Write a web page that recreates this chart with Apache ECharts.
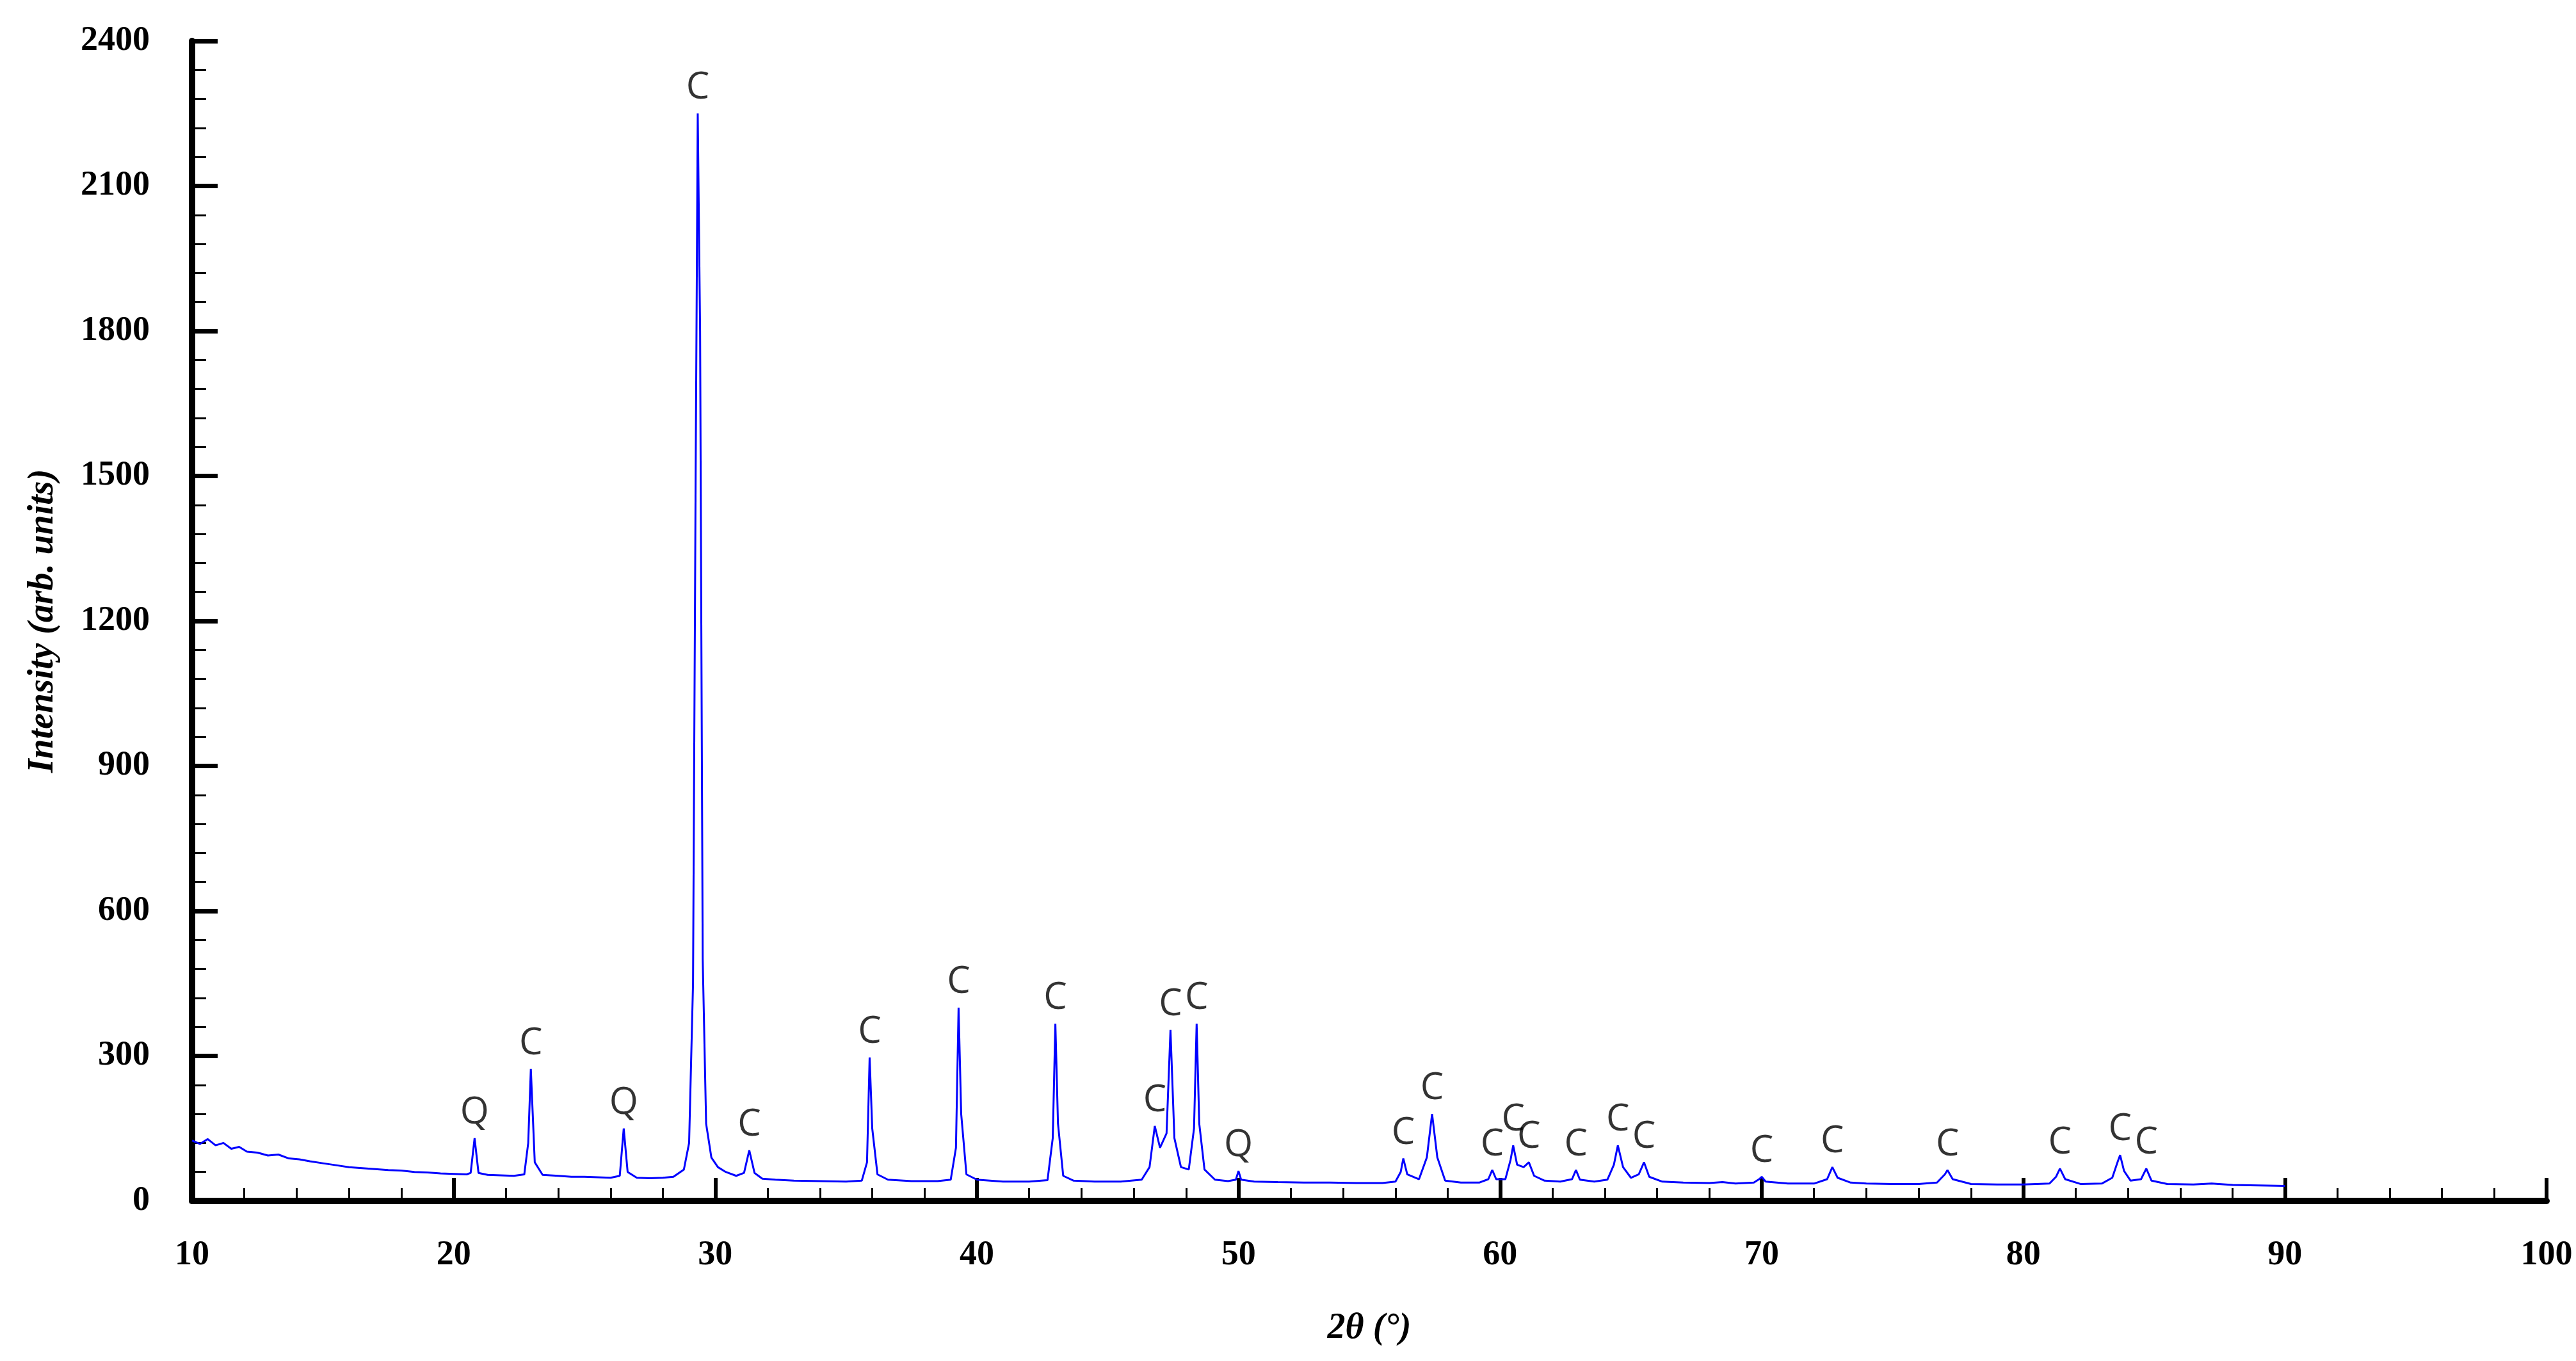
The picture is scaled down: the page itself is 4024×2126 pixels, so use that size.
<!DOCTYPE html>
<html><head><meta charset="utf-8">
<script src="https://cdn.jsdelivr.net/npm/echarts@6/dist/echarts.min.js"></script>
<style>html,body{margin:0;padding:0;background:#fff}#c{width:4024px;height:2126px}</style>
</head><body><div id="c"></div>
<script>
// [2θ, intensity] pairs
const pattern = [
[10,125],[10.3,118],[10.6,128],[10.9,115],[11.2,120],[11.5,108],[11.8,112],[12.1,102],[12.5,100],[12.9,94],[13.3,96],[13.7,88],[14.1,86],[14.5,82],[15,78],[15.5,74],[16,70],[16.5,68],[17,66],[17.5,64],[18,63],[18.5,60],[19,59],[19.5,57],[20,56],[20.5,55],
[20.65,58],[20.8,130],[20.95,58],[21.3,54],[21.8,53],[22.3,52],[22.7,55],[22.85,120],[22.95,273],[23.1,80],[23.4,54],[24,52],[24.5,50],[25,50],[25.5,49],[26,48],[26.35,52],[26.5,150],[26.65,60],[27,48],[27.5,47],[28,48],[28.4,50],
[28.8,65],[29.0,120],[29.15,450],[29.25,1500],[29.33,2250],[29.42,1800],[29.52,500],[29.65,160],[29.85,90],[30.1,70],[30.4,60],[30.8,52],[31.1,58],[31.3,105],[31.5,58],[31.8,46],[32.3,44],[33,42],[34,41],[35,40],[35.6,42],
[35.8,80],[35.9,297],[36.0,150],[36.2,55],[36.6,44],[37.5,41],[38.5,41],[39.0,44],[39.2,110],[39.3,400],[39.4,180],[39.6,55],[40,44],[41,40],[42,40],[42.7,43],[42.9,130],[43.0,367],[43.1,160],[43.3,52],[43.7,42],[44.5,40],[45.5,40],
[46.3,44],[46.6,70],[46.8,155],[47.0,110],[47.25,140],[47.4,354],[47.55,130],[47.8,70],[48.1,65],[48.3,150],[48.4,367],[48.5,160],[48.7,65],[49.1,44],[49.6,41],[49.9,44],[50.0,62],[50.1,44],[50.6,40],[51.5,39],[52.5,38],[53.5,38],[54.5,37],[55.5,37],
[56.0,40],[56.2,60],[56.3,88],[56.45,55],[56.9,45],[57.2,90],[57.4,180],[57.6,90],[57.9,42],[58.5,38],[59.2,38],[59.55,45],[59.7,64],[59.85,45],[60.2,45],[60.4,85],[60.5,115],[60.65,75],[60.9,70],[61.1,80],[61.3,52],[61.7,42],[62.3,40],
[62.75,45],[62.9,64],[63.05,44],[63.6,40],[64.1,44],[64.35,75],[64.5,115],[64.7,70],[65.0,48],[65.3,55],[65.5,80],[65.7,50],[66.2,40],[67,38],[68,37],[68.5,39],[69,36],[69.7,38],[69.9,45],[70.0,50],[70.15,40],[71,36],[72,36],
[72.5,45],[72.7,70],[72.9,48],[73.4,38],[74,36],[75,35],[76,35],[76.7,38],[77.0,55],[77.1,64],[77.3,45],[78,35],[79,34],[80,34],[81,36],[81.25,50],[81.4,67],[81.6,45],[82.2,35],[83.0,36],[83.4,48],[83.6,80],[83.7,95],[83.85,62],
[84.1,42],[84.5,45],[84.7,67],[84.9,42],[85.5,35],[86.5,34],[87.2,36],[88,33],[89,32],[90,31]
];
const peakLabelX = [20.8,22.95,26.5,29.33,31.3,35.9,39.3,43.0,46.8,47.4,48.4,50.0,56.3,57.4,59.7,60.5,61.1,62.9,64.5,65.5,70.0,72.7,77.1,81.4,83.7,84.7];
const peakLabelY = [130,273,150,2250,105,297,400,367,155,354,367,62,88,180,64,115,80,64,115,80,50,70,64,67,95,67];
const peakLabelText = ['Q','C','Q','C','C','C','C','C','C','C','C','Q','C','C','C','C','C','C','C','C','C','C','C','C','C','C'];

const labelData = peakLabelX.map((x,i)=>({value:[x,peakLabelY[i]],name:peakLabelText[i]}));
const chart = echarts.init(document.getElementById('c'));
const tickFont = {fontFamily:'Liberation Serif',fontWeight:'bold',fontSize:54,color:'#000'};
chart.setOption({
  animation:false,
  grid:{left:300,right:46,top:64,bottom:250},
  xAxis:{type:'value',min:10,max:100,interval:10,
    name:'2θ (°)',nameLocation:'middle',nameGap:172,
    nameTextStyle:{fontFamily:'Liberation Serif',fontStyle:'italic',fontWeight:'bold',fontSize:56,color:'#000'},
    axisLine:{lineStyle:{color:'#000',width:10}},
    axisTick:{inside:true,length:36,lineStyle:{color:'#000',width:6}},
    minorTick:{show:true,splitNumber:5,length:20,lineStyle:{color:'#000',width:3}},
    axisLabel:Object.assign({margin:58},tickFont),splitLine:{show:false}},
  yAxis:{type:'value',min:0,max:2400,interval:300,
    name:'Intensity (arb. units)',nameLocation:'middle',nameGap:204,
    nameTextStyle:{fontFamily:'Liberation Serif',fontStyle:'italic',fontWeight:'bold',fontSize:56,color:'#000'},
    axisLine:{show:true,lineStyle:{color:'#000',width:10}},
    axisTick:{show:true,inside:true,length:40,lineStyle:{color:'#000',width:7}},
    minorTick:{show:true,splitNumber:5,length:22,lineStyle:{color:'#000',width:3}},
    axisLabel:Object.assign({margin:66,formatter:v=>String(v)},tickFont),splitLine:{show:false}},
  series:[
    {type:'line',data:pattern,symbol:'none',lineStyle:{color:'#0000ff',width:3},silent:true},
    {type:'scatter',data:labelData,symbolSize:1,itemStyle:{color:'rgba(0,0,0,0)'},
     label:{show:true,position:'top',distance:10,formatter:p=>p.name,
       fontFamily:'Open Sans',fontSize:58,color:'#000'}}
  ]
});
</script></body></html>
